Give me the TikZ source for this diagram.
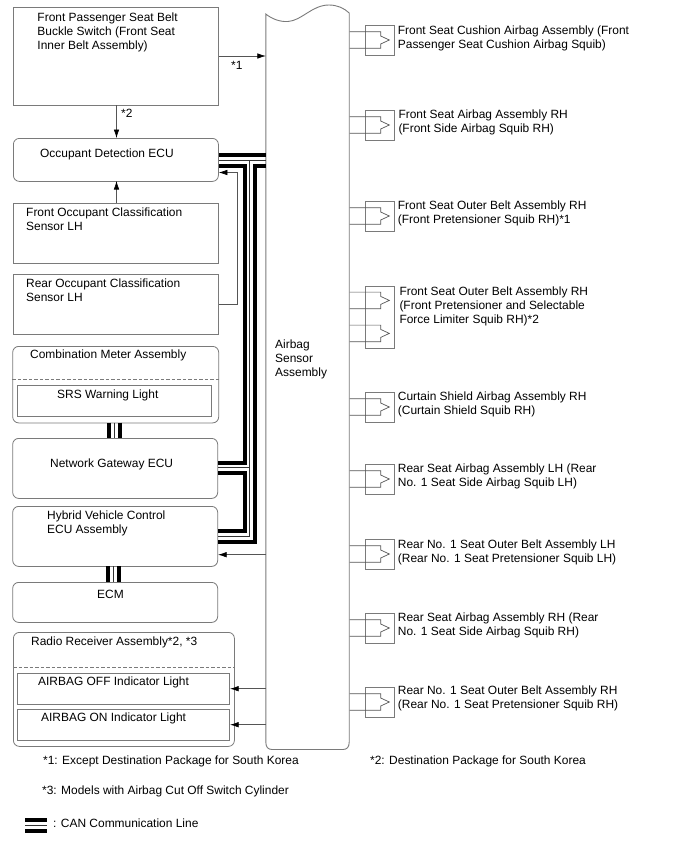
\documentclass[tikz,border=0pt]{standalone}
\usepackage{fontspec}
\setmainfont{Liberation Sans}
\usetikzlibrary{arrows.meta}
\definecolor{edge}{HTML}{7A7A7A}
\definecolor{wire}{HTML}{555555}
\newcommand{\rows}[1]{\begin{tabular}[t]{@{}l@{}}#1\end{tabular}}
\tikzset{
  plainbox/.style={draw=edge,line width=0.8pt,fill=white,rectangle,inner sep=0pt,anchor=north west},
  roundbox/.style={plainbox,rounded corners=6pt},
  lbl/.style={inner sep=0pt,anchor=base west,yshift=-0.8pt,font=\fontsize{11.95}{14}\selectfont,text=black},
  sig/.style={draw=wire,line width=0.6pt,-{Latex[length=8.5pt,width=5.5pt,black]}},
  wireline/.style={draw=wire,line width=0.7pt},
  canthick/.style={draw=black,line width=3.7pt},
  canthin/.style={draw=black!80,line width=0.9pt},
  squibbox/.style={draw=edge,line width=0.7pt,rectangle,inner sep=0pt,minimum width=28.5pt,anchor=north west},
  divider/.style={draw=edge,line width=0.6pt,dash pattern=on 3.5pt off 2pt}
}
\begin{document}
\begin{tikzpicture}[x=1pt,y=-1pt]
\useasboundingbox (0,0) rectangle (688,852);

% Sensor column with its torn top edge
\draw[edge,line width=0.9pt,fill=white,rounded corners=0pt]
  (265.8,14) .. controls (272,19) and (280,22) .. (288,21.5)
  .. controls (302,20.5) and (312,5) .. (329,5)
  .. controls (337,5) and (344,8) .. (349.2,13)
  -- (349.2,742) .. controls (349.2,747) and (347,749.5) .. (343,749.5)
  -- (272,749.5) .. controls (268,749.5) and (265.8,747) .. (265.8,742) -- cycle;
\node[inner sep=0pt,minimum width=83.4pt,minimum height=735pt,anchor=north west] (bus) at (265.8,14) {};

% Units on the left
\node[plainbox,minimum width=205pt,minimum height=98pt] (pax) at (13,7) {};
\node[roundbox,minimum width=205pt,minimum height=43pt] (ode) at (13,138) {};
\node[plainbox,minimum width=205pt,minimum height=60pt] (frontocc) at (13,203) {};
\node[plainbox,minimum width=205pt,minimum height=60pt] (rearocc) at (13,274) {};
\node[roundbox,minimum width=206pt,minimum height=76.5pt] (meter) at (12.3,346) {};
\node[plainbox,minimum width=194pt,minimum height=31pt] (srs) at (17.3,385) {};
\node[roundbox,minimum width=205pt,minimum height=60pt] (gateway) at (12.3,438) {};
\node[roundbox,minimum width=205pt,minimum height=60pt] (hybrid) at (12.3,506) {};
\node[roundbox,minimum width=205pt,minimum height=40pt] (ecm) at (12.3,582) {};
\node[roundbox,minimum width=221pt,minimum height=114pt] (radio) at (13,632) {};
\node[plainbox,minimum width=212pt,minimum height=31pt] (offlight) at (17.3,673) {};
\node[plainbox,minimum width=212pt,minimum height=30.5pt] (onlight) at (17.3,709) {};

\draw[divider] (meter.west |- 0,379) -- (meter.east |- 0,379);
\draw[divider] (radio.west |- 0,667.5) -- (radio.east |- 0,667.5);

% CAN bus runs
\draw[canthick] (ode.east |- 0,155) -- (bus.west |- 0,155);
\draw[canthin]  (ode.east |- 0,160.3) -- (bus.west |- 0,160.3);
\draw[canthick] (ode.east |- 0,166) -- (245,166) -- (245,462.7) -- (gateway.east |- 0,462.7);
\draw[canthick] (bus.west |- 0,166) -- (255.3,166) -- (255.3,541.7) -- (hybrid.east |- 0,541.7);
\draw[canthin]  (249.9,160.3) -- (249.9,536) -- (hybrid.east |- 0,536);
\draw[canthin]  (gateway.east |- 0,467) -- (249.9,467);
\draw[canthick] (gateway.east |- 0,472.7) -- (245,472.7) -- (245,530.7) -- (hybrid.east |- 0,530.7);
\draw[canthick] (108.7,422.5) -- (108.7,438);
\draw[canthin]  (114,422.5) -- (114,438);
\draw[canthick] (119.8,422.5) -- (119.8,438);
\draw[canthick] (108,566) -- (108,582);
\draw[canthin]  (113.3,566) -- (113.3,582);
\draw[canthick] (119,566) -- (119,582);

% Signal lines
\draw[sig] (pax.east |- 0,56) -- (bus.west |- 0,56);
\draw[sig] (116.5,105) -- (116.5,138);
\draw[sig] (116.5,203) -- (116.5,181);
\draw[sig] (rearocc.east |- 0,304) -- (237.5,304) -- (237.5,172.5) -- (ode.east |- 0,172.5);
\draw[sig] (bus.west |- 0,554.7) -- (hybrid.east |- 0,554.7);
\draw[sig] (bus.west |- 0,688.7) -- (offlight.east |- 0,688.7);
\draw[sig] (bus.west |- 0,724.7) -- (onlight.east |- 0,724.7);

% Squib units on the right
\foreach \name/\c in {a/40,b/125,c/216,e/407,f/479,g/554,h/628,i/702}{
  \node[squibbox,minimum height=30pt] (sq\name) at (365.3,\c-15) {};
  \draw[wireline] (bus.east |- 0,\c-8.3) -- (380.7,\c-8.3) -- (380.7,\c-4) -- (389.3,\c)
     -- (380.7,\c+4) -- (380.7,\c+8.3) -- (bus.east |- 0,\c+8.3);
}
\node[squibbox,minimum height=62.3pt] (sqd) at (365.3,286) {};
\foreach \c in {300.4,333.4}{
  \draw[wireline] (bus.east |- 0,\c-8.3) -- (380.7,\c-8.3) -- (380.7,\c-4) -- (389.3,\c)
     -- (380.7,\c+4) -- (380.7,\c+8.3) -- (bus.east |- 0,\c+8.3);
}

% Captions
\node[lbl] (tpax) at (37.3,20.7) {\rows{Front Passenger Seat Belt\\Buckle Switch (Front Seat\\Inner Belt Assembly)}};
\node[lbl] (tn1) at (231,69) {*1};
\node[lbl] (tn2) at (121,117) {*2};
\node[lbl] (tode) at (40,156.7) {Occupant Detection ECU};
\node[lbl] (tfront) at (26,216) {\rows{Front Occupant Classification\\Sensor LH}};
\node[lbl] (trear) at (26,287) {\rows{Rear Occupant Classification\\Sensor LH}};
\node[lbl] (tmeter) at (30,357.7) {Combination Meter Assembly};
\node[lbl] (tsrs) at (57,397.7) {SRS Warning Light};
\node[lbl] (tgate) at (50,466.7) {Network Gateway ECU};
\node[lbl] (thyb) at (47,518.7) {\rows{Hybrid Vehicle Control\\ECU Assembly}};
\node[lbl] (tecm) at (97,598) {ECM};
\node[lbl] (tradio) at (31,645) {Radio Receiver Assembly*2, *3};
\node[lbl] (toff) at (38,685) {AIRBAG OFF Indicator Light};
\node[lbl] (ton) at (41,720.7) {AIRBAG ON Indicator Light};
\node[lbl] (tbus) at (275,348) {\rows{Airbag\\Sensor\\Assembly}};

\node[lbl] (ta) at (397.7,34) {\rows{Front Seat Cushion Airbag Assembly (Front\\Passenger Seat Cushion Airbag Squib)}};
\node[lbl] (tb) at (398.3,117.7) {\rows{Front Seat Airbag Assembly RH\\(Front Side Airbag Squib RH)}};
\node[lbl] (tc) at (397.7,208.3) {\rows{Front Seat Outer Belt Assembly RH\\(Front Pretensioner Squib RH)*1}};
\node[lbl] (td) at (399.3,295) {\rows{Front Seat Outer Belt Assembly RH\\(Front Pretensioner and Selectable\\Force Limiter Squib RH)*2}};
\node[lbl] (te) at (397.7,400) {\rows{Curtain Shield Airbag Assembly RH\\(Curtain Shield Squib RH)}};
\node[lbl] (tf) at (397.7,471.7) {\rows{Rear Seat Airbag Assembly LH (Rear\\No. 1 Seat Side Airbag Squib LH)}};
\node[lbl] (tg) at (397.7,547.3) {\rows{Rear No. 1 Seat Outer Belt Assembly LH\\(Rear No. 1 Seat Pretensioner Squib LH)}};
\node[lbl] (th) at (397.7,620.7) {\rows{Rear Seat Airbag Assembly RH (Rear\\No. 1 Seat Side Airbag Squib RH)}};
\node[lbl] (ti) at (397.7,694) {\rows{Rear No. 1 Seat Outer Belt Assembly RH\\(Rear No. 1 Seat Pretensioner Squib RH)}};

% Notes and legend
\node[lbl] (note1) at (43,763.3) {*1: Except Destination Package for South Korea};
\node[lbl] (note2) at (370,763.3) {*2: Destination Package for South Korea};
\node[lbl] (note3) at (42,793.3) {*3: Models with Airbag Cut Off Switch Cylinder};
\coordinate (legL) at (25,825);
\coordinate (legR) at (47,825);
\draw[canthick] (legL |- 0,820) -- (legR |- 0,820);
\draw[canthin]  (legL |- 0,825.3) -- (legR |- 0,825.3);
\draw[canthick] (legL |- 0,830.8) -- (legR |- 0,830.8);
\node[lbl] (tleg) at (53,826.7) {: CAN Communication Line};
\end{tikzpicture}
\end{document}
